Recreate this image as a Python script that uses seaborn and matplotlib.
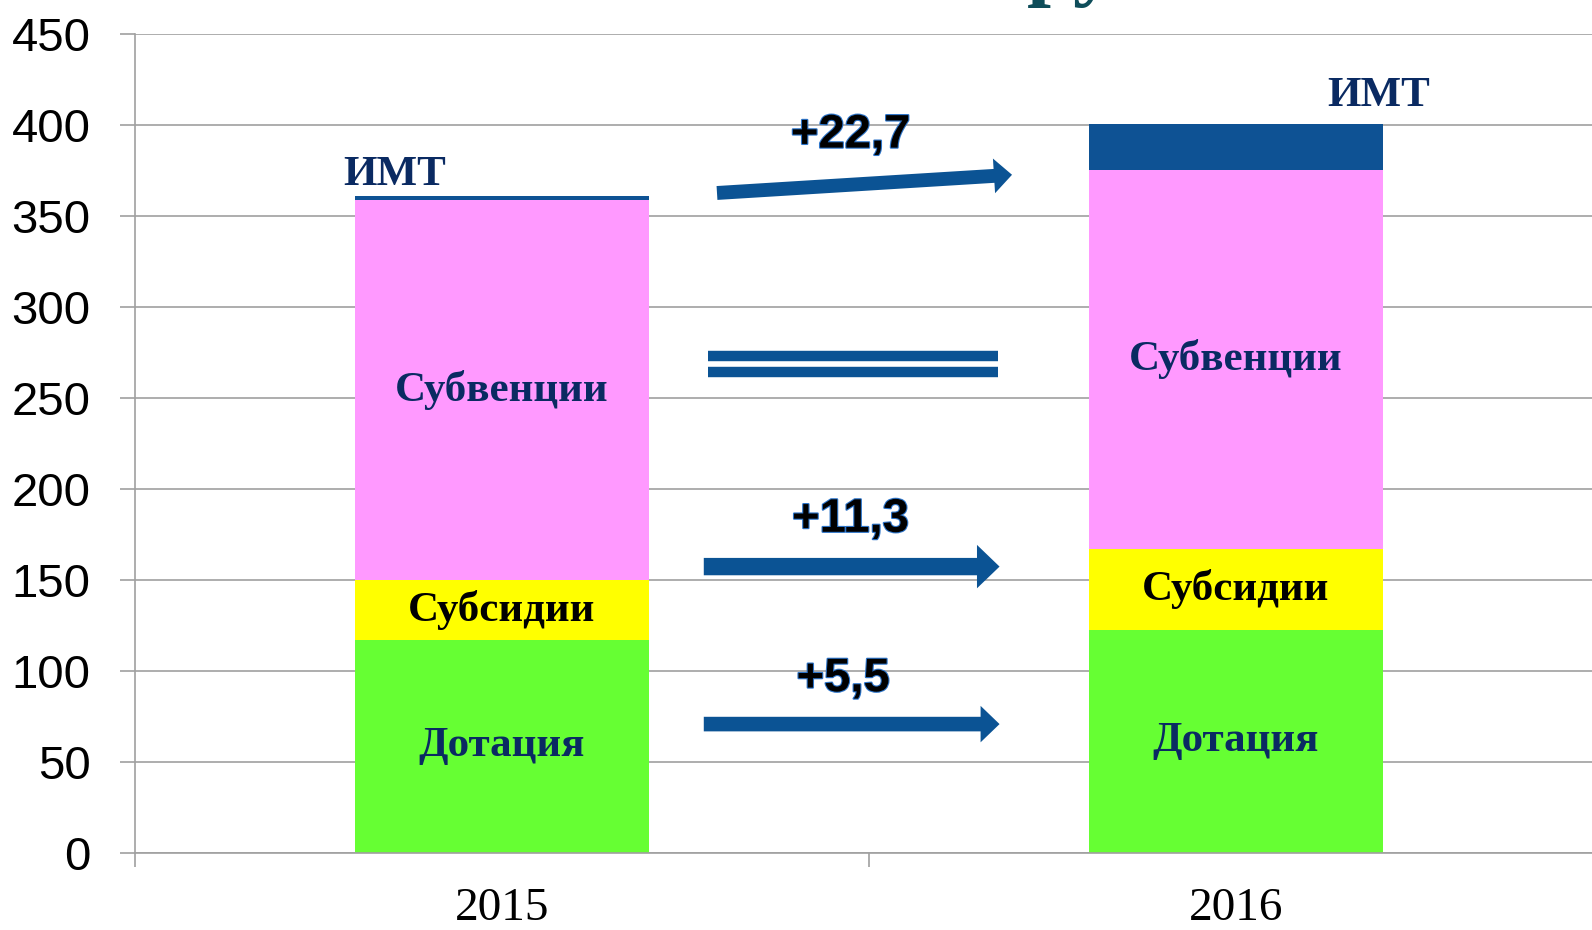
import seaborn as sns
import matplotlib.pyplot as plt
import matplotlib.patheffects as pe
import numpy as np

# Данные
years = ['2015', '2016']
dotacia = [117.1, 122.6]
subsidii = [33.0, 44.3]
subvencii = [208.4, 208.4]
imt = [2.4, 25.1]
prirost = ['+5,5', '+11,3', '+22,7']

sns.set_style('white')
plt.rcParams['font.family'] = ['Liberation Sans', 'DejaVu Sans']

fig = plt.figure(figsize=(15.92, 9.30), dpi=100)
ax = fig.add_axes([0.0848, 0.0828, 0.922, 0.881])

sloi = [dotacia, subsidii, subvencii, imt]
cveta = ['#66FF33', '#FFFF00', '#FF99FF', '#0E5294']
cum = np.cumsum(np.array(sloi), axis=0)

# накопленные столбцы, сверху вниз
for i in range(len(sloi) - 1, -1, -1):
    sns.barplot(x=years, y=cum[i], color=cveta[i], width=0.4, saturation=1,
                linewidth=0, ax=ax, zorder=2)

ax.set_xlim(-0.5, 1.5)
ax.set_ylim(0, 450)
ax.set_yticks(range(0, 451, 50))
ax.yaxis.grid(True, color='#A0A0A0', linewidth=1.2, zorder=0)
ax.set_axisbelow(True)
for s in ['top', 'right']:
    ax.spines[s].set_visible(False)
for s in ['left', 'bottom']:
    ax.spines[s].set_color('#A0A0A0')
    ax.spines[s].set_linewidth(1.2)

ax.tick_params(axis='y', labelsize=34, length=11, width=1.2, color='#A0A0A0', pad=21,
               left=True, labelcolor='black')
ax.set_xticks([-0.5, 0.5, 1.5], minor=True)
ax.tick_params(axis='x', which='minor', length=10, width=1.2, color='#A0A0A0', bottom=True)
ax.tick_params(axis='x', which='major', length=0, pad=25, labelcolor='black')
for lab in ax.get_xticklabels():
    lab.set_fontfamily('Liberation Serif')
    lab.set_fontsize(34)
ax.set_xlabel('')
ax.set_ylabel('')

# подписи сегментов
serif = dict(family='Liberation Serif', fontweight='bold', fontsize=31,
             ha='center', va='center', zorder=5)
nazv = ['Дотация', 'Субсидии', 'Субвенции']
cvet_txt = ['#0A2A62', '#000000', '#0A2A62']
for j in range(2):
    for i in range(3):
        niz = cum[i - 1][j] if i > 0 else 0
        ax.text(j, (niz + cum[i][j]) / 2, nazv[i], color=cvet_txt[i], **serif)
ax.text(-0.146, 372.5, 'ИМТ', color='#0A2A62', **serif)
ax.text(1.195, 416, 'ИМТ', color='#0A2A62', **serif)

# стрелки прироста
strelka = '#0B5394'
obvod = [pe.withStroke(linewidth=1.6, foreground='#2E75C9')]
num = dict(family=['Liberation Sans Narrow', 'Liberation Sans'], fontweight='bold',
           fontsize=34, ha='center', va='center', color='black', zorder=6,
           path_effects=obvod)

strelki = [((0.275, 70.8), (0.678, 70.8), 10.5, (0.465, 95.4)),
           ((0.275, 157.3), (0.678, 157.3), 12.5, (0.475, 183)),
           ((0.293, 362.5), (0.695, 372.5), 10, (0.475, 394))]
for (p0, p1, w, tp), t in zip(strelki, prirost):
    ax.annotate('', xy=p1, xytext=p0, zorder=4,
                arrowprops=dict(arrowstyle='simple,head_length=1.3,head_width=2.5,tail_width=1',
                                mutation_scale=w, color=strelka, shrinkA=0, shrinkB=0,
                                linewidth=0))
    ax.text(tp[0], tp[1], t, **num)

# знак равенства для субвенций
for yy in [272.7, 264.3]:
    ax.plot([0.281, 0.676], [yy, yy], color=strelka, linewidth=7.5,
            solid_capstyle='butt', zorder=4)

# обрезанный заголовок сверху
fig.text(0.645, 1.012, 'руб.', family='Liberation Serif', fontweight='bold',
         fontsize=62, color='#0E4D5A', ha='left', va='baseline')

plt.savefig('out.png', dpi=100)
